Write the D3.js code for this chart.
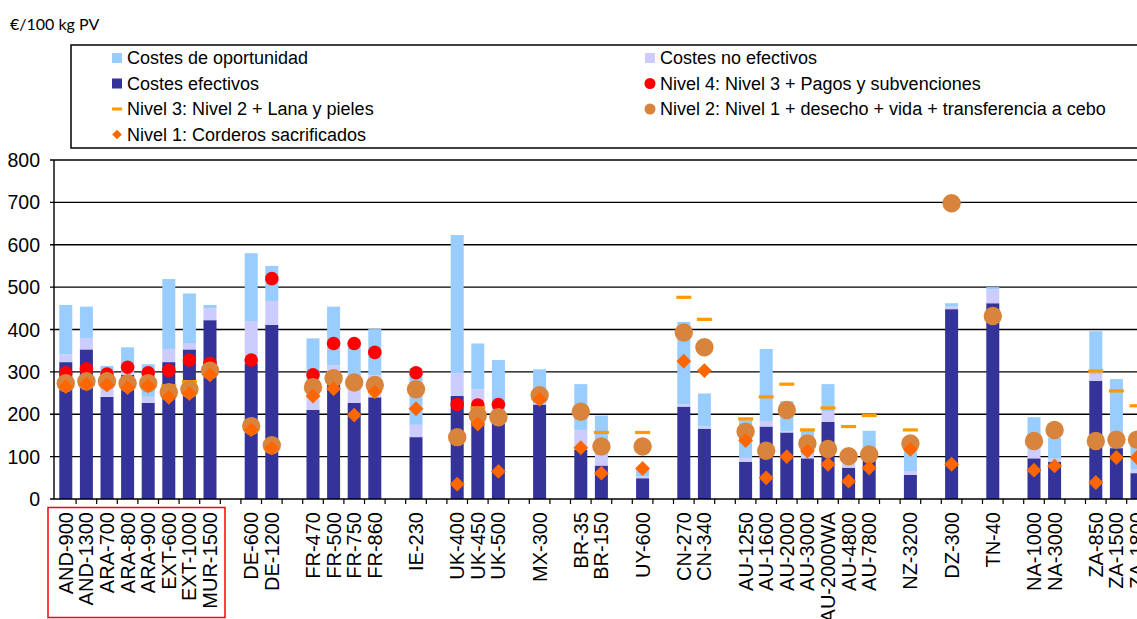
<!DOCTYPE html>
<html>
<head>
<meta charset="utf-8">
<script src="https://cdn.jsdelivr.net/npm/d3@7"></script>
<style>
  body { margin: 0; background: #fff; }
  svg { display: block; }
  text { font-family: "Liberation Sans", Arial, sans-serif; fill: #000; }
</style>
</head>
<body>
<div id="chart-area"></div>
<script>
let width = 1137,
    height = 619;

// categories ("" = empty slot between countries)
let farms = [
  "AND-900","AND-1300","ARA-700","ARA-800","ARA-900","EXT-600","EXT-1000","MUR-1500","",
  "DE-600","DE-1200","",
  "FR-470","FR-500","FR-750","FR-860","",
  "IE-230","",
  "UK-400","UK-450","UK-500","",
  "MX-300","",
  "BR-35","BR-150","",
  "UY-600","",
  "CN-270","CN-340","",
  "AU-1250","AU-1600","AU-2000","AU-3000","AU-2000WA","AU-4800","AU-7800","",
  "NZ-3200","",
  "DZ-300","",
  "TN-40","",
  "NA-1000","NA-3000","",
  "ZA-850","ZA-1500","ZA-1800"
];

// Costes efectivos
let efectivos = [
  323,353,241,293,227,323,353,422,null,
  320,411,null,
  210,285,227,240,null,
  146,null,
  243,200,200,null,
  223,null,
  116,79,null,
  49,null,
  218,166,null,
  88,171,157,96,182,74,90,null,
  57,null,
  448,null,
  462,null,
  96,88,null,
  279,120,61
];

// Costes no efectivos
let noEfectivos = [
  18,27,21,7,14,31,15,28,null,
  100,56,null,
  31,30,35,52,null,
  29,null,
  54,59,10,null,
  3,null,
  47,25,null,
  4,null,
  5,6,null,
  10,13,3,8,24,10,5,null,
  9,null,
  6,null,
  33,null,
  21,7,null,
  16,10,9
];

// Costes de oportunidad
let oportunidad = [
  117,74,52,58,77,165,117,8,null,
  160,83,null,
  138,139,106,109,null,
  134,null,
  326,108,118,null,
  80,null,
  108,93,null,
  23,null,
  195,77,null,
  88,170,71,60,65,16,66,null,
  65,null,
  8,null,
  5,null,
  76,50,null,
  101,153,70
];

// Nivel 4: Nivel 3 + Pagos y subvenciones
let nivel4 = [
  298,307,295,311,298,303,328,320,null,
  328,520,null,
  293,367,367,346,null,
  298,null,
  223,222,223,null,
  null,null,
  null,null,null,
  null,null,
  null,null,null,
  null,null,null,null,null,null,null,null,
  null,null,
  null,null,
  null,null,
  null,null,null,
  null,null,null
];

// Nivel 3: Nivel 2 + Lana y pieles
let nivel3 = [
  null,null,null,null,null,267,277,null,null,
  null,null,null,
  null,null,null,null,null,
  null,null,
  null,215,202,null,
  null,null,
  null,157,null,
  157,null,
  476,424,null,
  189,241,271,163,215,171,197,null,
  163,null,
  null,null,
  null,null,
  null,null,null,
  302,255,220
];

// Nivel 2: Nivel 1 + desecho + vida + transferencia a cebo
let nivel2 = [
  273,278,278,273,273,252,259,303,null,
  172,127,null,
  264,285,275,269,null,
  259,null,
  146,197,193,null,
  245,null,
  206,124,null,
  124,null,
  393,358,null,
  159,114,210,131,118,101,105,null,
  131,null,
  698,null,
  432,null,
  137,163,null,
  137,140,140
];

// Nivel 1: Corderos sacrificados
let nivel1 = [
  265,271,269,263,267,240,249,293,null,
  163,120,null,
  243,260,198,253,null,
  213,null,
  35,177,65,null,
  235,null,
  121,61,null,
  72,null,
  325,303,null,
  138,50,100,113,82,42,73,null,
  117,null,
  82,null,
  null,null,
  68,78,null,
  39,98,98
];

let yTicks = [0,100,200,300,400,500,600,700,800];

let colors = {
  oportunidad: "#99ccff",
  noEfectivos: "#ccccff",
  efectivos: "#333399",
  nivel4: "#ff0000",
  nivel3: "#ff9900",
  nivel2: "#d9843c",
  nivel1: "#ff6600"
};

let svg = d3.select("#chart-area").append("svg")
  .attr("width", width)
  .attr("height", height);

let axisX = 54, slotLeft = 55.5, plotBottom = 499, plotTop = 160;
let step = 20.6;

let x = d3.scaleBand()
  .domain(d3.range(farms.length))
  .range([slotLeft, slotLeft + step * farms.length])
  .padding(0);

let y = d3.scaleLinear()
  .domain([0, 800])
  .range([plotBottom, plotTop]);

let barW = 13;
let cx = i => x(i) + x.bandwidth() / 2;

// title
svg.append("text")
  .attr("x", 10).attr("y", 30)
  .style("font-family", "Lato, 'Open Sans', sans-serif")
  .style("font-size", "16px")
  .text("€/100 kg PV");

// gridlines
svg.selectAll(".grid")
  .data(yTicks.slice(1))
  .enter().append("line")
  .attr("class", "grid")
  .attr("x1", axisX - 4).attr("x2", width)
  .attr("y1", d => y(d)).attr("y2", d => y(d))
  .attr("stroke", "#000")
  .attr("stroke-width", 1.4);

// y tick labels
svg.selectAll(".ylab")
  .data(yTicks)
  .enter().append("text")
  .attr("class", "ylab")
  .attr("x", 40)
  .attr("y", d => y(d))
  .attr("dy", "0.36em")
  .attr("text-anchor", "end")
  .style("font-size", "19.5px")
  .text(d => d);

// stacked bars
let table = farms.map((f, i) => ({
  i: i,
  efectivos: efectivos[i] || 0,
  noEfectivos: noEfectivos[i] || 0,
  oportunidad: oportunidad[i] || 0
})).filter(d => farms[d.i] !== "");

let stack = d3.stack().keys(["efectivos", "noEfectivos", "oportunidad"]);
let layers = stack(table);

svg.selectAll(".layer")
  .data(layers)
  .enter().append("g")
  .attr("class", "layer")
  .attr("fill", d => colors[d.key])
  .selectAll("rect")
  .data(d => d)
  .enter().append("rect")
  .attr("x", d => cx(d.data.i) - barW / 2)
  .attr("width", barW)
  .attr("y", d => y(d[1]))
  .attr("height", d => y(d[0]) - y(d[1]));

// axes lines
svg.append("line")
  .attr("x1", axisX).attr("x2", axisX)
  .attr("y1", plotTop).attr("y2", plotBottom)
  .attr("stroke", "#000").attr("stroke-width", 1.4);

svg.append("line")
  .attr("x1", axisX - 4).attr("x2", width)
  .attr("y1", plotBottom).attr("y2", plotBottom)
  .attr("stroke", "#000").attr("stroke-width", 1.6);

// x ticks at slot boundaries
svg.selectAll(".xtick")
  .data(d3.range(1, farms.length + 1))
  .enter().append("line")
  .attr("class", "xtick")
  .attr("x1", d => slotLeft + d * step).attr("x2", d => slotLeft + d * step)
  .attr("y1", plotBottom).attr("y2", plotBottom + 5)
  .attr("stroke", "#000").attr("stroke-width", 1.2);

// points
let pts = arr => arr.map((v, i) => ({ i: i, v: v })).filter(d => d.v != null);

svg.selectAll(".n4")
  .data(pts(nivel4))
  .enter().append("circle")
  .attr("class", "n4")
  .attr("cx", d => cx(d.i)).attr("cy", d => y(d.v))
  .attr("r", 6.8)
  .attr("fill", colors.nivel4);

svg.selectAll(".n3")
  .data(pts(nivel3))
  .enter().append("rect")
  .attr("class", "n3")
  .attr("x", d => cx(d.i) - 7.5).attr("y", d => y(d.v) - 1.6)
  .attr("width", 15).attr("height", 3.2)
  .attr("fill", colors.nivel3);

svg.selectAll(".n2")
  .data(pts(nivel2))
  .enter().append("circle")
  .attr("class", "n2")
  .attr("cx", d => cx(d.i)).attr("cy", d => y(d.v))
  .attr("r", 9.2)
  .attr("fill", colors.nivel2);

let diamond = d3.symbol().type(d3.symbolDiamond2).size(140);

svg.selectAll(".n1")
  .data(pts(nivel1))
  .enter().append("path")
  .attr("class", "n1")
  .attr("d", diamond)
  .attr("transform", d => "translate(" + cx(d.i) + "," + y(d.v) + ")")
  .attr("fill", colors.nivel1);

// x labels
svg.selectAll(".xlab")
  .data(farms.map((f, i) => ({ f: f, i: i })).filter(d => d.f !== ""))
  .enter().append("text")
  .attr("class", "xlab")
  .attr("transform", d => "translate(" + (cx(d.i) + 7) + "," + 512 + ") rotate(-90)")
  .attr("text-anchor", "end")
  .style("font-size", "20px")
  .text(d => d.f);

// red box around the Spanish farms
svg.append("rect")
  .attr("x", 48).attr("y", 507.5)
  .attr("width", 177).attr("height", 110)
  .attr("fill", "none")
  .attr("stroke", "#ff0000")
  .attr("stroke-width", 1.5);

// legend
let legend = svg.append("g");
legend.append("rect")
  .attr("x", 71).attr("y", 45)
  .attr("width", 1100).attr("height", 103)
  .attr("fill", "#fff")
  .attr("stroke", "#000")
  .attr("stroke-width", 1.5);

let legendItems = [
  { key: "oportunidad", label: "Costes de oportunidad", type: "square", col: 0, row: 0 },
  { key: "noEfectivos", label: "Costes no efectivos", type: "square", col: 1, row: 0 },
  { key: "efectivos", label: "Costes efectivos", type: "square", col: 0, row: 1 },
  { key: "nivel4", label: "Nivel 4: Nivel 3 + Pagos y subvenciones", type: "circle", col: 1, row: 1 },
  { key: "nivel3", label: "Nivel 3: Nivel 2 + Lana y pieles", type: "dash", col: 0, row: 2 },
  { key: "nivel2", label: "Nivel 2: Nivel 1 + desecho + vida + transferencia a cebo", type: "circle", col: 1, row: 2 },
  { key: "nivel1", label: "Nivel 1: Corderos sacrificados", type: "diamond", col: 0, row: 3 }
];

let colX = [117, 650], rowY = [58, 83.5, 109, 134.5];

let li = legend.selectAll(".li")
  .data(legendItems)
  .enter().append("g")
  .attr("transform", d => "translate(" + colX[d.col] + "," + rowY[d.row] + ")");

li.each(function(d) {
  let g = d3.select(this);
  if (d.type === "square") {
    g.append("rect").attr("x", -5).attr("y", -5).attr("width", 10).attr("height", 10).attr("fill", colors[d.key]);
  } else if (d.type === "circle") {
    g.append("circle").attr("r", 5.5).attr("fill", colors[d.key]);
  } else if (d.type === "dash") {
    g.append("rect").attr("x", -5).attr("y", -1.5).attr("width", 10).attr("height", 3).attr("fill", colors[d.key]);
  } else {
    g.append("path").attr("d", d3.symbol().type(d3.symbolDiamond2).size(60)).attr("fill", colors[d.key]);
  }
  g.append("text")
    .attr("x", 10)
    .attr("dy", "0.36em")
    .style("font-size", "18px")
    .text(d.label);
});
</script>
</body>
</html>
